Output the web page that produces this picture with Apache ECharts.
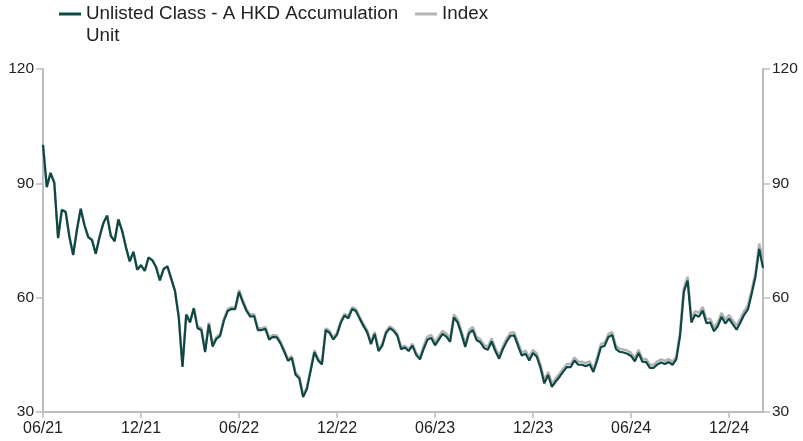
<!DOCTYPE html>
<html>
<head>
<meta charset="utf-8">
<script src="https://cdn.jsdelivr.net/npm/echarts@6/dist/echarts.min.js"></script>
<style>
  html, body { margin: 0; padding: 0; background: #fff; }
  #chart { width: 803px; height: 441px; }
</style>
</head>
<body>
<div id="chart"></div>
<script>
// weekly points, first one 30/06/2021
var startDate = '2021-06-30';
var pointCount = 192;

var fundName = 'Unlisted Class - A HKD Accumulation Unit';
var indexName = 'Index';

var fundValues = [
  100.1, 89.0, 92.7, 90.1, 75.6, 83.0, 82.5, 76.0, 71.2, 77.8,
  83.3, 79.0, 75.9, 75.1, 71.5, 75.9, 79.5, 81.5, 76.2, 74.8,
  80.5, 77.5, 73.2, 69.5, 72.0, 67.3, 68.5, 67.0, 70.5, 69.8,
  68.0, 64.5, 67.5, 68.2, 65.0, 61.8, 55.0, 41.8, 55.5, 53.5,
  57.2, 52.0, 51.5, 45.7, 53.0, 47.2, 49.2, 50.0, 54.0, 56.5,
  57.0, 57.0, 61.5, 58.8, 56.5, 55.0, 55.2, 51.5, 51.5, 51.8,
  49.0, 49.7, 49.6, 48.0, 45.8, 43.4, 44.2, 39.8, 38.8, 33.9,
  36.0, 40.8, 45.7, 43.5, 42.5, 51.5, 50.8, 49.0, 50.3, 53.4,
  55.3, 54.6, 57.0, 56.5, 54.5, 52.6, 50.9, 47.8, 50.5, 46.0,
  47.4, 50.7, 52.0, 51.3, 50.0, 46.5, 46.9, 46.0, 47.4, 45.0,
  43.8, 46.6, 49.0, 49.4, 47.5, 49.0, 50.5, 49.8, 48.4, 54.8,
  53.5, 50.5, 47.1, 50.6, 51.5, 48.9, 48.3, 46.8, 46.3, 48.5,
  46.0, 44.0, 46.5, 48.5, 50.0, 50.1, 47.4, 44.8, 45.3, 43.5,
  45.5, 44.5, 41.5, 37.5, 39.7, 36.6, 38.0, 39.2, 40.6, 41.8,
  41.8, 43.5, 42.4, 42.4, 42.0, 42.5, 40.5, 43.5, 47.0, 47.4,
  49.7, 50.2, 46.5, 45.8, 45.6, 45.3, 44.7, 43.3, 45.5, 43.2,
  43.1, 41.6, 41.6, 42.5, 43.0, 42.6, 43.1, 42.4, 43.8, 50.0,
  61.5, 64.5, 53.5, 55.5, 55.0, 56.6, 53.3, 53.5, 51.2, 52.5,
  55.0, 53.2, 54.5, 53.0, 51.6, 53.5, 55.5, 56.9, 61.0, 65.5,
  72.8, 67.8
];

var indexValues = [
  100.2, 89.1, 92.8, 90.2, 75.7, 83.1, 82.6, 76.1, 71.3, 77.9,
  83.4, 79.1, 76.0, 75.2, 71.6, 76.0, 79.6, 81.6, 76.3, 74.9,
  80.6, 77.6, 73.3, 69.6, 72.1, 67.4, 68.6, 67.1, 70.6, 69.9,
  68.1, 64.6, 67.6, 68.3, 65.1, 61.9, 55.1, 42.0, 55.7, 53.7,
  57.3, 52.5, 52.0, 46.2, 53.5, 47.7, 49.7, 50.5, 54.5, 57.0,
  57.5, 57.5, 62.0, 59.3, 57.0, 55.5, 55.7, 52.0, 52.0, 52.3,
  49.5, 50.2, 50.1, 48.5, 46.3, 43.9, 44.7, 40.3, 39.3, 34.4,
  36.5, 41.3, 46.2, 44.0, 43.0, 52.0, 51.3, 49.5, 50.8, 53.9,
  55.8, 55.1, 57.5, 57.0, 55.0, 53.1, 51.4, 48.3, 51.0, 46.5,
  47.9, 51.2, 52.5, 51.8, 50.5, 47.0, 47.4, 46.5, 47.9, 45.5,
  44.3, 47.4, 49.8, 50.2, 48.3, 49.8, 51.3, 50.6, 49.2, 55.6,
  54.3, 51.3, 47.9, 51.4, 52.3, 49.7, 49.1, 47.6, 47.1, 49.3,
  46.8, 44.8, 47.3, 49.3, 50.8, 50.9, 48.2, 45.6, 46.1, 44.3,
  46.3, 45.3, 42.3, 38.3, 40.5, 37.4, 38.8, 40.0, 41.4, 42.6,
  42.6, 44.3, 43.2, 43.2, 42.8, 43.3, 41.3, 44.3, 47.8, 48.2,
  50.5, 51.0, 47.3, 46.6, 46.4, 46.1, 45.5, 44.1, 46.3, 44.0,
  43.9, 42.4, 42.4, 43.3, 43.8, 43.4, 43.9, 43.2, 44.6, 51.0,
  62.5, 65.5, 54.5, 56.5, 56.0, 57.6, 54.3, 54.5, 52.2, 53.5,
  56.0, 54.2, 55.5, 54.0, 52.6, 54.5, 56.5, 57.9, 62.0, 66.5,
  74.2, 69.5
];

var yTicks = [30, 60, 90, 120];

// build weekly dates
var dayMs = 24 * 3600 * 1000;
var t0 = Date.parse(startDate + 'T00:00:00Z');
var dates = [];
for (var i = 0; i < pointCount; i++) {
  dates.push(new Date(t0 + i * 7 * dayMs).toISOString().slice(0, 10));
}

// tick on the last week of June and of December
function isHalfYearEnd(index) {
  var d = new Date(Date.parse(dates[index] + 'T00:00:00Z'));
  var m = d.getUTCMonth();
  if (m !== 5 && m !== 11) return false;
  var next = new Date(d.getTime() + 7 * dayMs);
  return next.getUTCMonth() !== m;
}

function fmtDate(v) {
  return v.slice(5, 7) + '/' + v.slice(2, 4);
}

var axisGrey = '#bdbdbd';
var font = 'Liberation Sans, Arial, sans-serif';
var legendFontSize = 18.8;

var chart = echarts.init(document.getElementById('chart'), null, { renderer: 'canvas' });

var yAxisBase = {
  type: 'value',
  min: yTicks[0],
  max: yTicks[yTicks.length - 1],
  interval: 30,
  splitLine: { show: false },
  axisLine: { show: true, lineStyle: { color: axisGrey, width: 2 } },
  axisTick: { show: true, length: 7, lineStyle: { color: axisGrey, width: 1.5 } },
  axisLabel: { color: '#222', fontSize: 15.5, fontFamily: font, margin: 9 }
};

var option = {
  animation: false,
  legend: {
    left: 59,
    top: 3,
    padding: 0,
    icon: 'rect',
    itemWidth: 22,
    itemHeight: 3,
    itemGap: 17,
    textStyle: { color: '#222', fontSize: legendFontSize, fontFamily: font, lineHeight: 22 },
    data: [fundName, indexName],
    // second line of the long name is drawn below as its own text
    formatter: function (name) {
      return name === fundName ? 'Unlisted Class - A HKD Accumulation' : name;
    }
  },
  graphic: [
    {
      type: 'text',
      x: 86,
      y: 36,
      silent: true,
      style: {
        text: 'Unit',
        fill: '#222',
        font: legendFontSize + 'px ' + font,
        verticalAlign: 'middle'
      }
    }
  ],
  grid: { left: 43, right: 40, top: 69, bottom: 29, containLabel: false },
  xAxis: {
    type: 'category',
    data: dates,
    boundaryGap: false,
    axisLine: { show: true, lineStyle: { color: axisGrey, width: 2 } },
    axisTick: {
      show: true,
      length: 6,
      interval: function (index) { return isHalfYearEnd(index); },
      lineStyle: { color: axisGrey, width: 1.5 }
    },
    axisLabel: {
      color: '#222',
      fontSize: 16,
      fontFamily: font,
      margin: 9,
      interval: function (index) { return isHalfYearEnd(index); },
      formatter: fmtDate
    },
    splitLine: { show: false }
  },
  yAxis: [
    Object.assign({}, yAxisBase, { position: 'left' }),
    Object.assign({}, yAxisBase, { position: 'right' })
  ],
  series: [
    {
      name: indexName,
      type: 'line',
      data: indexValues,
      yAxisIndex: 0,
      showSymbol: false,
      symbol: 'none',
      z: 2,
      lineStyle: { color: '#b3b3b3', width: 2.5 },
      itemStyle: { color: '#b3b3b3' }
    },
    {
      name: fundName,
      type: 'line',
      data: fundValues,
      yAxisIndex: 0,
      showSymbol: false,
      symbol: 'none',
      z: 3,
      lineStyle: { color: '#0d4844', width: 2.2 },
      itemStyle: { color: '#0d4844' }
    }
  ]
};

chart.setOption(option);
</script>
</body>
</html>
